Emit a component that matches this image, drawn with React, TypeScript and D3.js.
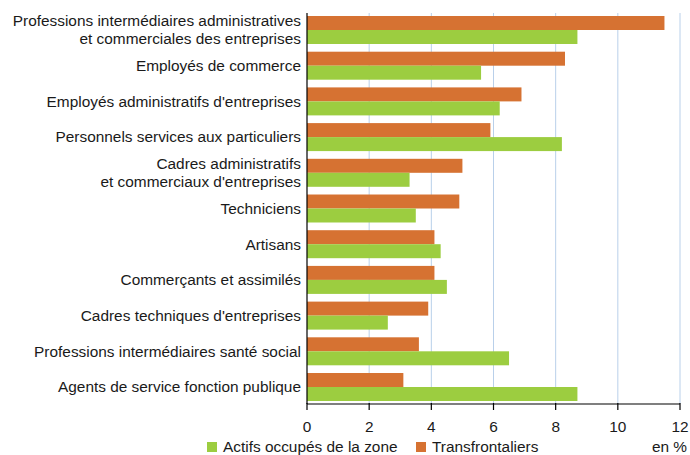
import React from "react";
import * as d3 from "d3";

const categories: string[][] = [
  ["Professions intermédiaires administratives", "et commerciales des entreprises"],
  ["Employés de commerce"],
  ["Employés administratifs d'entreprises"],
  ["Personnels services aux particuliers"],
  ["Cadres administratifs", "et commerciaux d'entreprises"],
  ["Techniciens"],
  ["Artisans"],
  ["Commerçants et assimilés"],
  ["Cadres techniques d'entreprises"],
  ["Professions intermédiaires santé social"],
  ["Agents de service fonction publique"],
];
const transfrontaliers = [11.5, 8.3, 6.9, 5.9, 5.0, 4.9, 4.1, 4.1, 3.9, 3.6, 3.1];
const actifs = [8.7, 5.6, 6.2, 8.2, 3.3, 3.5, 4.3, 4.5, 2.6, 6.5, 8.7];
const xTicks = [0, 2, 4, 6, 8, 10, 12];
const seriesNames = ["Actifs occupés de la zone", "Transfrontaliers"];

const W = 690;
const H = 455;
const left = 307;
const right = 680;
const top = 13;
const bottom = 404;
const ORANGE = "#d67232";
const GREEN = "#9ccd40";
const TXT = "#1a1a1a";
const FONT = "'Liberation Sans', Arial, sans-serif";
const FS = 15.4;

export default function App() {
  const x = d3.scaleLinear().domain([0, 12]).range([left, right]);
  const y = d3
    .scaleBand<number>()
    .domain(d3.range(categories.length))
    .range([top, bottom])
    .paddingInner(0.216)
    .paddingOuter(0.084);
  const sub = d3.scaleBand<number>().domain([0, 1]).range([0, y.bandwidth()]);

  return (
    <svg
      width={W}
      height={H}
      style={{ position: "absolute", left: 0, top: 0, fontFamily: FONT }}
    >
      <rect width={W} height={H} fill="#fff" />
      {xTicks.slice(1).map((t) => (
        <line key={t} x1={x(t)} x2={x(t)} y1={top} y2={bottom} stroke="#b9d0ea" strokeWidth={1} />
      ))}
      {categories.map((c, i) => {
        const y0 = y(i)!;
        return (
          <g key={i}>
            <rect
              x={x(0)}
              y={y0 + sub(0)!}
              width={x(transfrontaliers[i]) - x(0)}
              height={sub.bandwidth()}
              fill={ORANGE}
            />
            <rect
              x={x(0)}
              y={y0 + sub(1)!}
              width={x(actifs[i]) - x(0)}
              height={sub.bandwidth()}
              fill={GREEN}
            />
            {c.map((line, j) => (
              <text
                key={j}
                x={left - 6}
                y={y0 + y.bandwidth() / 2 + (j - (c.length - 1) / 2) * 18}
                dy="0.35em"
                textAnchor="end"
                fontSize={FS}
                fill={TXT}
              >
                {line}
              </text>
            ))}
          </g>
        );
      })}
      <line x1={left} x2={left} y1={top} y2={bottom} stroke="#000" strokeWidth={1.2} />
      <line x1={left} x2={right} y1={bottom} y2={bottom} stroke="#000" strokeWidth={1.2} />
      {xTicks.map((t) => (
        <g key={t}>
          <line x1={x(t)} x2={x(t)} y1={bottom - 1} y2={bottom + 6} stroke="#000" strokeWidth={1.2} />
          <text x={x(t)} y={427} dy="0.35em" textAnchor="middle" fontSize={FS} fill={TXT}>
            {t}
          </text>
        </g>
      ))}
      <rect x={207} y={442} width={10} height={10} fill={GREEN} />
      <text x={223} y={447} dy="0.35em" fontSize={FS} fill={TXT}>
        {seriesNames[0]}
      </text>
      <rect x={416} y={442} width={10} height={10} fill={ORANGE} />
      <text x={432} y={447} dy="0.35em" fontSize={FS} fill={TXT}>
        {seriesNames[1]}
      </text>
      <text x={687} y={447} dy="0.35em" textAnchor="end" fontSize={FS} fill={TXT}>
        en %
      </text>
    </svg>
  );
}
